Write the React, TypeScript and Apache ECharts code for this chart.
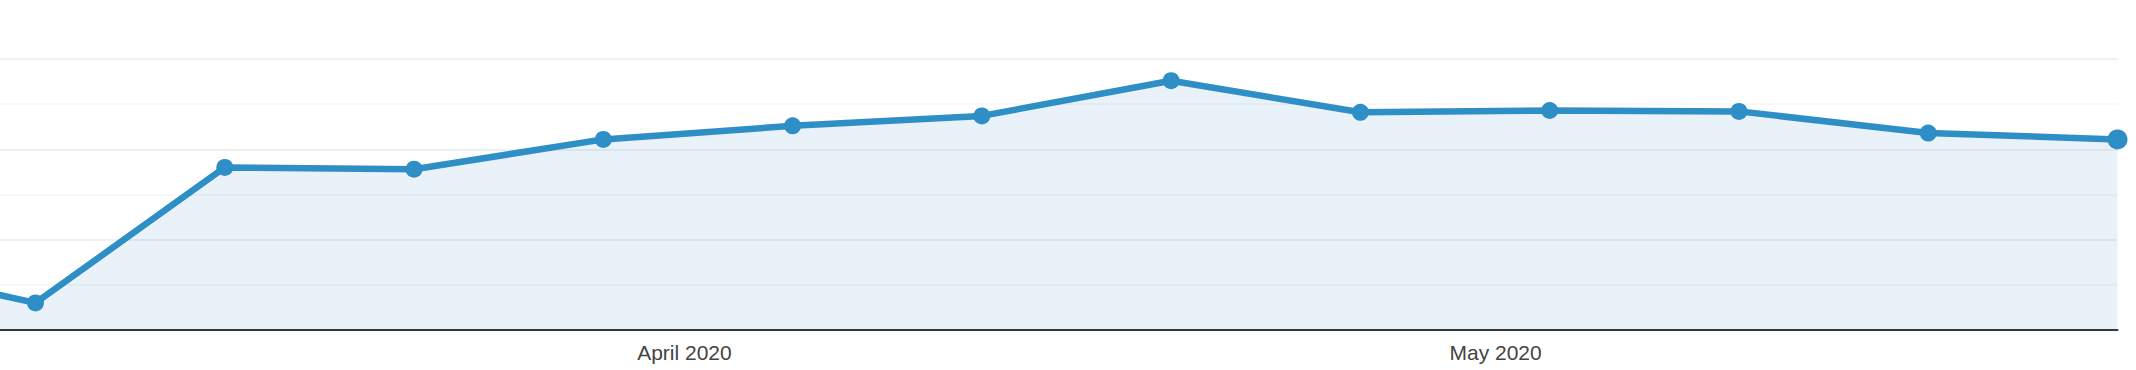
import React, { useEffect, useRef } from "react";
import * as echarts from "echarts";

// Weekly points (week starting dates); the first one lies just left of the visible area
const weeks: string[] = [
  "2020-03-01", "2020-03-08", "2020-03-15", "2020-03-22", "2020-03-29",
  "2020-04-05", "2020-04-12", "2020-04-19", "2020-04-26", "2020-05-03",
  "2020-05-10", "2020-05-17", "2020-05-24",
];
const values: number[] = [76, 30, 180, 178, 211, 226, 237, 276, 241, 243, 242, 218, 211];

// Month labels shown under the axis
const monthTicks: string[] = ["2020-04-01", "2020-05-01"];
const monthNames: string[] = [
  "January", "February", "March", "April", "May", "June",
  "July", "August", "September", "October", "November", "December",
];

const yMin = 0;
const yMax = 300;
const yInterval = 50;

const toTs = (s: string): number => {
  const [y, m, d] = s.split("-").map(Number);
  return new Date(y, m - 1, d).getTime();
};

export default function App() {
  const ref = useRef<HTMLDivElement>(null);

  useEffect(() => {
    if (!ref.current) return;
    const chart = echarts.init(ref.current, undefined, { renderer: "svg" });
    const DAY = 24 * 3600 * 1000;
    const firstVisible = toTs(weeks[1]);
    const last = toTs(weeks[weeks.length - 1]);
    const lineColor = "#2e8ec6";

    const data = weeks.map((w, i) => {
      const item: any = { value: [toTs(w), values[i]] };
      if (i === weeks.length - 1) item.symbolSize = 20;
      return item;
    });

    chart.setOption({
      animation: false,
      backgroundColor: "#ffffff",
      grid: { left: 0, right: 18.5, top: 59, bottom: 40 },
      xAxis: {
        type: "value",
        min: firstVisible - 1.313 * DAY,
        max: last,
        axisLine: { show: true, lineStyle: { color: "#333333", width: 2 } },
        axisTick: { show: false },
        splitLine: { show: false },
        axisLabel: {
          show: true,
          customValues: monthTicks.map(toTs),
          margin: 12,
          color: "#444444",
          fontSize: 21,
          fontFamily: "Liberation Sans, Arial, sans-serif",
          formatter: (v: number) => {
            const d = new Date(v);
            return monthNames[d.getMonth()] + " " + d.getFullYear();
          },
        },
      },
      yAxis: {
        type: "value",
        min: yMin,
        max: yMax,
        interval: yInterval,
        axisLine: { show: false },
        axisTick: { show: false },
        axisLabel: { show: false },
        splitLine: {
          show: true,
          lineStyle: { color: ["#ebebeb", "#f6f6f6"], width: 1.5 },
        },
      },
      series: [
        {
          type: "line",
          data,
          clip: true,
          symbol: "circle",
          symbolSize: 17,
          showAllSymbol: true,
          lineStyle: { color: lineColor, width: 6.5 },
          itemStyle: { color: lineColor, borderWidth: 0 },
          areaStyle: { color: "rgba(35,115,195,0.1)", opacity: 1 },
          emphasis: { disabled: true },
        },
      ],
    });

    return () => chart.dispose();
  }, []);

  return (
    <div
      ref={ref}
      style={{ position: "fixed", left: 0, top: 0, width: 2136, height: 370, background: "#fff" }}
    />
  );
}
